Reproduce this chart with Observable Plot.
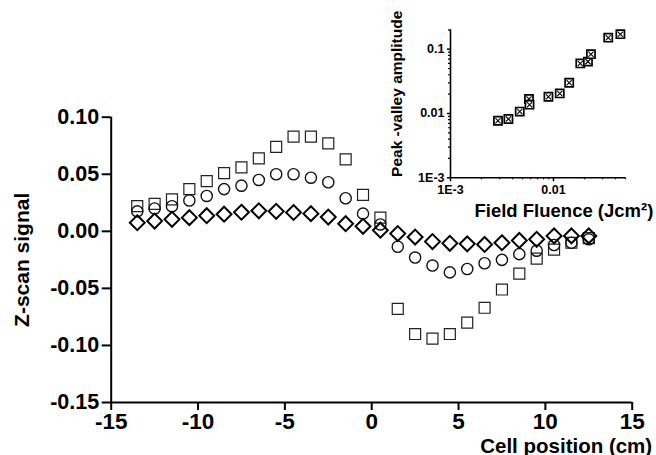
<!DOCTYPE html>
<html><head><meta charset="utf-8">
<script src="https://cdn.jsdelivr.net/npm/d3@7"></script>
<script src="https://cdn.jsdelivr.net/npm/@observablehq/plot@0.6"></script>
<style>
body{margin:0;background:#fff;}
#wrap{position:relative;width:656px;height:455px;overflow:hidden;}
#main{position:absolute;left:0;top:0;}
#inset{position:absolute;left:340px;top:0;}
</style></head><body>
<div id="wrap"><div id="main"></div><div id="inset"></div></div>
<script>
// ---- main chart data ----
const positions = [-13.5,-12.5,-11.5,-10.5,-9.5,-8.5,-7.5,-6.5,-5.5,-4.5,-3.5,-2.5,-1.5,-0.5,0.5,1.5,2.5,3.5,4.5,5.5,6.5,7.5,8.5,9.5,10.5,11.5,12.5];
const squareSignal = [0.022,0.024,0.028,0.037,0.044,0.051,0.056,0.064,0.074,0.083,0.083,0.077,0.063,0.032,0.012,-0.068,-0.090,-0.094,-0.090,-0.080,-0.067,-0.051,-0.037,-0.024,-0.016,-0.010,-0.006];
const circleSignal = [0.0175,0.020,0.022,0.027,0.031,0.037,0.040,0.045,0.050,0.050,0.047,0.043,0.029,0.0155,0.006,-0.0135,-0.023,-0.030,-0.036,-0.033,-0.028,-0.025,-0.020,-0.017,-0.012,-0.010,-0.007];
const diamondSignal = [0.0075,0.009,0.0105,0.012,0.0137,0.015,0.0167,0.018,0.0175,0.0165,0.0155,0.0125,0.0067,0.0044,0.001,-0.002,-0.005,-0.009,-0.0105,-0.011,-0.0115,-0.010,-0.008,-0.007,-0.004,-0.004,-0.004];
const xTicks = [-15,-10,-5,0,5,10,15];
const yTicks = [-0.15,-0.10,-0.05,0,0.05,0.10];
const yTickLabels = ["-0.15","-0.10","-0.05","0.00","0.05","0.10"];
const xTitle = "Cell position (cm)";
const yTitle = "Z-scan signal";

// ---- inset data ----
const fluence = [0.00289,0.00365,0.0047,0.00578,0.00585,0.00893,0.0115,0.0142,0.0182,0.0216,0.0231,0.034,0.0446];
const amplitude = [0.0077,0.0082,0.0107,0.0168,0.0137,0.0182,0.0205,0.030,0.060,0.064,0.0836,0.151,0.171];
const insetXTicks = [0.001,0.01];
const insetXTickLabels = ["1E-3","0.01"];
const insetYTicks = [0.001,0.01,0.1];
const insetYTickLabels = ["1E-3","0.01","0.1"];
const insetXMinor = [0.002,0.003,0.004,0.005,0.006,0.007,0.008,0.009,0.02,0.03,0.04,0.05];
const insetYMinor = [0.002,0.003,0.004,0.005,0.006,0.007,0.008,0.009,0.02,0.03,0.04,0.05,0.06,0.07,0.08,0.09,0.2];
const insetXTitle = "Field Fluence (Jcm²)";
const insetYTitle = "Peak -valley amplitude";

const FONT = '"Liberation Sans", Arial, Helvetica, sans-serif';

const sq = positions.map((x,i)=>({x, y: squareSignal[i]}));
const ci = positions.map((x,i)=>({x, y: circleSignal[i]}));
const di = positions.map((x,i)=>({x, y: diamondSignal[i]}));
const yLab = new Map(yTicks.map((t,i)=>[t, yTickLabels[i]]));

const main = Plot.plot({
  width: 656, height: 455,
  marginLeft: 110.7, marginRight: 24.3, marginTop: 116.7, marginBottom: 53,
  style: {fontFamily: FONT, fontWeight: "bold", background: "transparent", color: "black"},
  x: {domain: [-15, 15], axis: null},
  y: {domain: [-0.15, 0.10], axis: null},
  marks: [
    Plot.ruleX([-15], {stroke: "black", strokeWidth: 2}),
    Plot.ruleY([-0.15], {stroke: "black", strokeWidth: 2}),
    Plot.axisX(xTicks, {tickSize: 8, tickPadding: 3, strokeWidth: 2, tickFormat: d => String(d), fontSize: 22.5, fontWeight: "bold", label: null}),
    Plot.axisY(yTicks, {tickSize: 9, tickPadding: 3, strokeWidth: 2, tickFormat: d => yLab.get(d), fontSize: 21.5, fontWeight: "bold", label: null}),
    Plot.dot(sq, {x: "x", y: "y", symbol: "square", r: 6.2, fill: "none", stroke: "#222", strokeWidth: 1.2}),
    Plot.dot(ci, {x: "x", y: "y", symbol: "circle", r: 5.6, fill: "none", stroke: "#111", strokeWidth: 1.4}),
    Plot.dot(di, {x: "x", y: "y", symbol: "diamond2", r: 6.7, fill: "none", stroke: "black", strokeWidth: 2}),
    Plot.text([yTitle], {text: d => d, frameAnchor: "left", rotate: -90, dx: -89, textAnchor: "middle", fontSize: 21, fontWeight: "bold", fill: "black"}),
    Plot.text([xTitle], {text: d => d, frameAnchor: "bottom-right", textAnchor: "start", lineAnchor: "bottom", dx: -152, dy: 50, fontSize: 20.5, fontWeight: "bold", fill: "black"})
  ]
});
document.getElementById("main").appendChild(main);

const ins = fluence.map((x,i)=>({x, y: amplitude[i]}));
const ixLab = new Map(insetXTicks.map((t,i)=>[t, insetXTickLabels[i]]));
const iyLab = new Map(insetYTicks.map((t,i)=>[t, insetYTickLabels[i]]));

const inset = Plot.plot({
  width: 316, height: 230,
  marginLeft: 110, marginRight: 31, marginTop: 29.3, marginBottom: 52.7,
  style: {fontFamily: FONT, fontWeight: "bold", background: "transparent", color: "black", overflow: "visible"},
  x: {type: "log", domain: [0.001, 0.05], axis: null},
  y: {type: "log", domain: [0.001, 0.2], axis: null},
  marks: [
    Plot.ruleX([0.001], {stroke: "black", strokeWidth: 1.6}),
    Plot.ruleY([0.001], {stroke: "black", strokeWidth: 1.6}),
    Plot.axisX(insetXTicks, {tickSize: 4, tickPadding: 3, strokeWidth: 1.5, tickFormat: d => ixLab.get(d), fontSize: 12.5, fontWeight: "bold", label: null}),
    Plot.axisX(insetXMinor, {tickSize: 2, tickPadding: 0, strokeWidth: 1.2, tickFormat: () => "", label: null}),
    Plot.axisY(insetYTicks, {tickSize: 3, tickPadding: 3, strokeWidth: 1.5, tickFormat: d => iyLab.get(d), fontSize: 12.5, fontWeight: "bold", label: null}),
    Plot.axisY(insetYMinor, {tickSize: 2, tickPadding: 0, strokeWidth: 1.2, tickFormat: () => "", label: null}),
    Plot.dot(ins, {x: "x", y: "y", symbol: "square", r: 4.6, fill: "white", stroke: "black", strokeWidth: 1.7}),
    Plot.dot(ins, {x: "x", y: "y", symbol: "times", r: 2.5, stroke: "black", strokeWidth: 1.1}),
    Plot.text([insetYTitle], {text: d => d, frameAnchor: "left", rotate: -90, dx: -53.5, dy: -10, textAnchor: "middle", fontSize: 15.5, fontWeight: "bold", fill: "black"}),
    Plot.text([insetXTitle], {text: d => d, frameAnchor: "bottom-left", textAnchor: "start", lineAnchor: "bottom", dx: 24, dy: 38.7, fontSize: 18.5, fontWeight: "bold", fill: "black"})
  ]
});
document.getElementById("inset").appendChild(inset);
</script>
</body></html>
